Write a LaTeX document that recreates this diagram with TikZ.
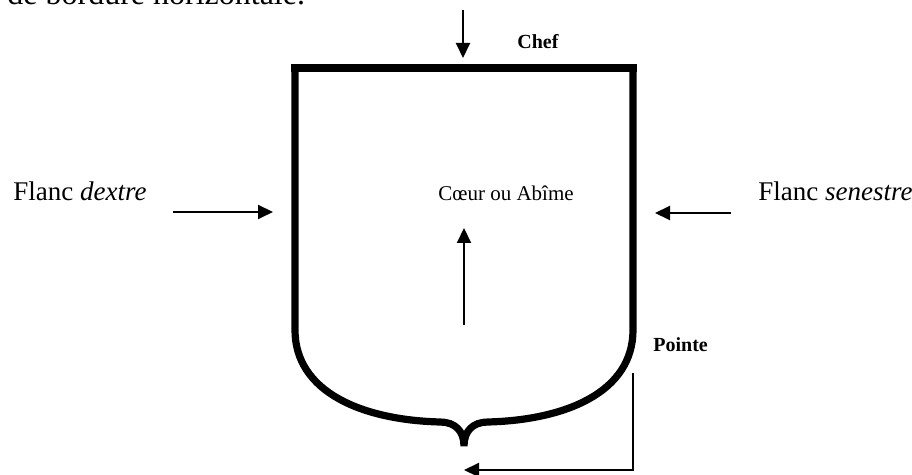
\documentclass[tikz,border=0pt]{standalone}
\usepackage{fontspec}
\setmainfont{Liberation Serif}
\usetikzlibrary{arrows.meta}
\tikzstyle{blason} = [x = 0.5pt, y = -0.5pt]
\tikzstyle{shieldLine} = [color=black, line width = 3.6pt, line cap = butt]
\tikzstyle{pointer} = [color=black, line width = 1pt, -{Triangle[length = 7.5pt, width = 7pt]}]
\tikzstyle{bodyText} = [inner sep = 0pt, font = \fontsize{16}{19}\selectfont]
\tikzstyle{flancText} = [inner sep = 0pt, font = \fontsize{13.5}{16}\selectfont]
\tikzstyle{coeurText} = [inner sep = 0pt, font = \fontsize{10.5}{12}\selectfont]
\tikzstyle{partText} = [inner sep = 0pt, font = \fontsize{10}{12}\selectfont\bfseries]

\begin{document}
\begin{tikzpicture}[blason]
  \clip (0,0) rectangle (912,475);
  \fill[white] (0,0) rectangle (912,475);

  % line of the running text above
  \node[bodyText, anchor = base west] (phrase) at (7,5) {de bordure horizontale.};

  % the shield
  \draw [shieldLine, line cap = rect] (295,68) -- (633,68);
  \draw [shieldLine] (295,68) -- (295,330)
    .. controls (295,392) and (362,420) .. (440,422)
    .. controls (455,422) and (464,431) .. (464,446)
    .. controls (464,431) and (473,422) .. (488,422)
    .. controls (566,420) and (633,392) .. (633,330)
    -- (633,68);

  % labels
  \node[partText, anchor = base west] (chef) at (517,49) {Chef};
  \node[flancText, anchor = base west] (dextre) at (13,201) {Flanc \textit{dextre}};
  \node[flancText, anchor = base west] (senestre) at (758,201) {Flanc \textit{senestre}};
  \node[coeurText, anchor = base] (coeur) at (506,201) {Cœur ou Abîme};
  \node[partText, anchor = base west] (pointe) at (653,352) {Pointe};

  % arrow ends
  \coordinate (chefFrom) at (463,10);
  \coordinate (chefTo) at (463,58);
  \coordinate (dextreFrom) at (173,212);
  \coordinate (dextreTo) at (273,212);
  \coordinate (senestreFrom) at (731,213);
  \coordinate (senestreTo) at (655,213);
  \coordinate (coeurFrom) at (464,325);
  \coordinate (coeurTo) at (464,228);
  \coordinate (pointeFrom) at (633,373);
  \coordinate (pointeTo) at (464,470);

  \draw [pointer] (chefFrom) -- (chefTo);
  \draw [pointer] (dextreFrom) -- (dextreTo);
  \draw [pointer] (senestreFrom) -- (senestreTo);
  \draw [pointer] (coeurFrom) -- (coeurTo);
  \draw [pointer] (pointeFrom) |- (pointeTo);
\end{tikzpicture}
\end{document}
